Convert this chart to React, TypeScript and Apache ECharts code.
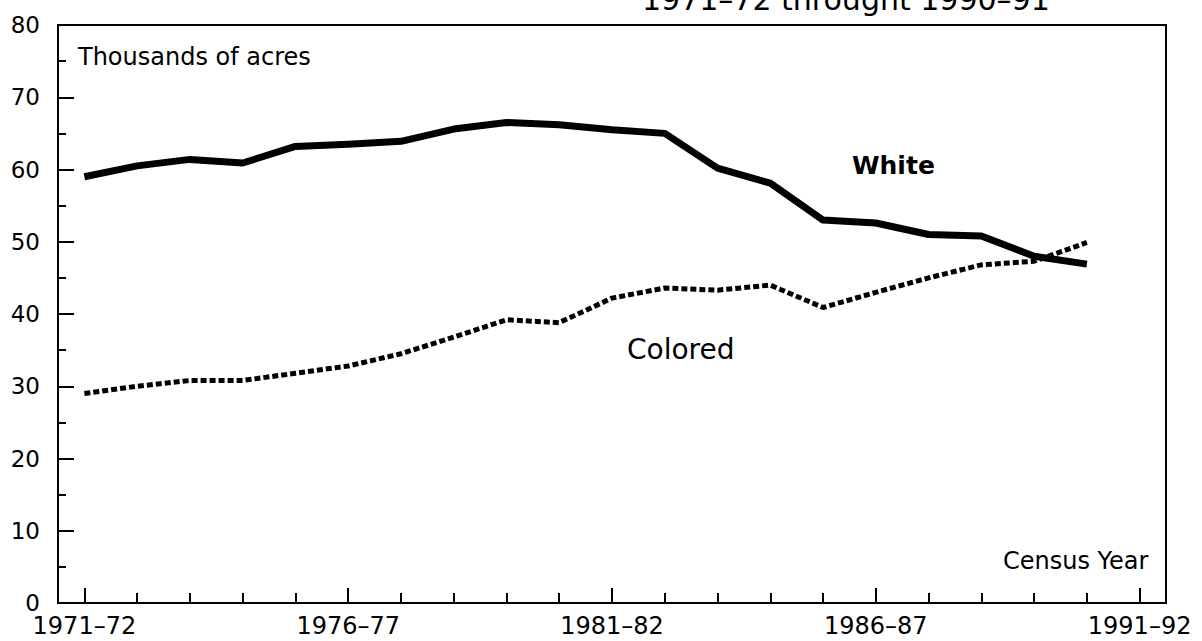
import React, { useEffect, useRef } from "react";
import * as echarts from "echarts";

const years: string[] = [
  "1971–72", "1972–73", "1973–74", "1974–75", "1975–76", "1976–77", "1977–78",
  "1978–79", "1979–80", "1980–81", "1981–82", "1982–83", "1983–84", "1984–85",
  "1985–86", "1986–87", "1987–88", "1988–89", "1989–90", "1990–91", "1991–92",
];
const whiteAcres: number[] = [
  59.0, 60.5, 61.4, 60.9, 63.2, 63.5, 63.9, 65.6, 66.5, 66.2,
  65.5, 65.0, 60.2, 58.1, 53.0, 52.6, 51.0, 50.8, 48.0, 46.9,
];
const coloredAcres: number[] = [
  29.0, 30.0, 30.8, 30.8, 31.8, 32.8, 34.5, 36.8, 39.2, 38.8,
  42.2, 43.6, 43.3, 44.0, 40.9, 43.0, 45.0, 46.8, 47.3, 49.9,
];
const yTicks = { min: 0, max: 80, interval: 10 };
const titleText = "1971–72 throught 1990–91";
const yAxisName = "Thousands of acres";
const xAxisName = "Census Year";
const whiteLabel = "White";
const coloredLabel = "Colored";

const FONT = "DejaVu Sans";

export default function App() {
  const ref = useRef<HTMLDivElement>(null);
  useEffect(() => {
    if (!ref.current) return;
    const chart = echarts.init(ref.current, undefined, { renderer: "svg" });
    chart.setOption({
      animation: false,
      backgroundColor: "#fff",
      grid: {
        left: 58, right: 36, top: 25, bottom: 38,
        show: true, borderColor: "#000", borderWidth: 2, backgroundColor: "transparent",
      },
      xAxis: [
        {
          type: "category",
          data: years,
          boundaryGap: true,
          position: "bottom",
          axisLine: { show: true, lineStyle: { color: "#000", width: 2 } },
          axisTick: { show: true, inside: true, length: 10, interval: 0, alignWithLabel: true, lineStyle: { color: "#000", width: 2 } },
          axisLabel: { interval: 4, color: "#000", fontFamily: FONT, fontSize: 24, margin: 11 },
          splitLine: { show: false },
        },
        {
          type: "category",
          data: years,
          boundaryGap: true,
          position: "bottom",
          gridIndex: 0,
          axisLine: { show: false },
          axisTick: { show: true, inside: true, length: 15, interval: 4, alignWithLabel: true, lineStyle: { color: "#000", width: 2 } },
          axisLabel: { show: false },
          splitLine: { show: false },
        },
      ],
      yAxis: {
        type: "value",
        min: yTicks.min, max: yTicks.max, interval: yTicks.interval,
        axisLine: { show: true, lineStyle: { color: "#000", width: 2 } },
        axisTick: { show: true, inside: true, length: 16, lineStyle: { color: "#000", width: 2 } },
        minorTick: { show: true, splitNumber: 2, length: 8, lineStyle: { color: "#000", width: 2 } },
        axisLabel: { color: "#000", fontFamily: FONT, fontSize: 23, margin: 18 },
        splitLine: { show: false },
      },
      series: [
        {
          name: "White", type: "line", data: whiteAcres, xAxisIndex: 0,
          showSymbol: false, symbol: "none",
          lineStyle: { color: "#000", width: 7, join: "round", cap: "butt" },
        },
        {
          name: "Colored", type: "line", data: coloredAcres, xAxisIndex: 0,
          showSymbol: false, symbol: "none",
          lineStyle: { color: "#000", width: 5, type: [6, 3], cap: "butt" },
        },
      ],
      graphic: [
        { type: "text", left: 642, top: -16, style: { text: titleText, font: `30px '${FONT}'`, fill: "#000" } },
        { type: "text", left: 78, top: 45, style: { text: yAxisName, font: `24px '${FONT}'`, fill: "#000" } },
        { type: "text", left: 1003, top: 549, style: { text: xAxisName, font: `24px '${FONT}'`, fill: "#000" } },
        { type: "text", left: 852, top: 153, style: { text: whiteLabel, font: `bold 25px '${FONT}'`, fill: "#000" } },
        { type: "text", left: 627, top: 335, style: { text: coloredLabel, font: `28px '${FONT}'`, fill: "#000" } },
      ],
    });
    return () => chart.dispose();
  }, []);
  return <div ref={ref} style={{ position: "fixed", left: 0, top: 0, width: 1202, height: 641 }} />;
}
